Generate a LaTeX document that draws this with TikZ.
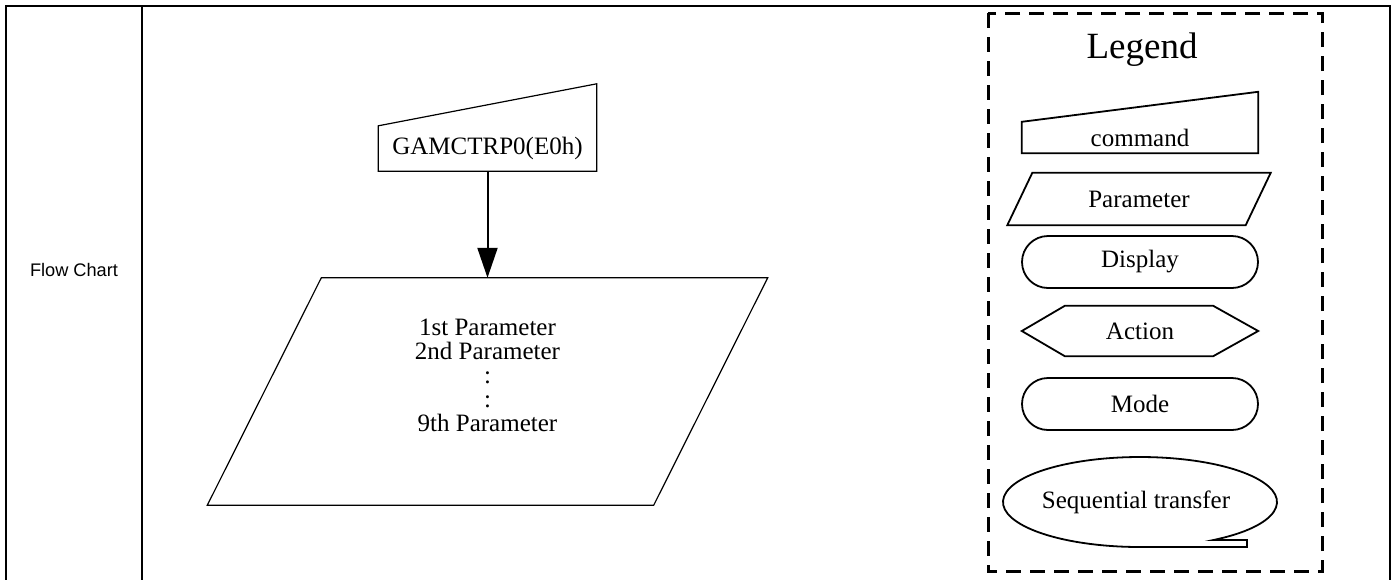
\documentclass[tikz,border=0pt]{standalone}
\usepackage{fontspec}
\setmainfont{Liberation Serif}
\newfontfamily\arialfont{Liberation Sans}
\usetikzlibrary{arrows.meta,positioning,calc}
\tikzset{
  >={Triangle[length=30pt,width=20pt]},
  grid/.style={line width=2.2pt},
  flowline/.style={line width=1.2pt},
  legline/.style={line width=1.8pt},
  txt/.style={font=\fontsize{25}{24}\selectfont, align=center, inner sep=0pt},
  term/.style={draw, legline, rounded corners=26pt, minimum width=236pt, minimum height=52pt, txt},
  legbox/.style={line width=3pt, dash pattern=on 15pt off 9pt},
}

\begin{document}
\begin{tikzpicture}[x=1pt,y=-1pt]
  \useasboundingbox (0,0) rectangle (1397,579);
  % table frame
  \draw[grid] (6,581) -- (6,6) -- (1390,6) -- (1390,581);
  \draw[grid] (142,6) -- (142,581);
  \node[font=\arialfont\fontsize{18.2}{22}\selectfont] (fc) at (74,270) {Flow Chart};

  % flow chart
  \node[txt, minimum width=218pt, minimum height=45pt] (cmd) at (487.5,148.5) {GAMCTRP0(E0h)};
  \draw[flowline] (cmd.north west) -- (cmd.south west) -- (cmd.south east)
    -- ($(cmd.north east)+(0,-42)$) -- cycle;
  \node[minimum width=446pt, minimum height=227pt, inner sep=0pt] (par) at (487.5,391.5) {};
  \draw[flowline] ($(par.north west)+(57,0)$) -- ($(par.north east)+(57,0)$)
    -- ($(par.south east)+(-57,0)$) -- ($(par.south west)+(-57,0)$) -- cycle;
  \node[txt] (ptxt) at (487.5,375) {1st Parameter\\2nd Parameter\\:\\:\\9th Parameter};
  \draw[->, line width=2pt] (cmd) -- (par);

  % legend
  \draw[legbox] (988,13) rectangle (1322,571);
  \node[font=\fontsize{37}{40}\selectfont, inner sep=0pt] (leg) at (1142,50) {Legend};

  \node[txt, minimum width=236pt, minimum height=31pt] (lcmd) at (1140,137.5) {command};
  \draw[legline] (lcmd.north west) -- (lcmd.south west) -- (lcmd.south east)
    -- ($(lcmd.north east)+(0,-30)$) -- cycle;

  \node[txt, minimum width=238pt, minimum height=52pt] (lpar) at (1139,199) {Parameter};
  \draw[legline] ($(lpar.north west)+(12.5,0)$) -- ($(lpar.north east)+(12.5,0)$)
    -- ($(lpar.south east)+(-12.5,0)$) -- ($(lpar.south west)+(-12.5,0)$) -- cycle;

  \node[term] (ldisp) at (1140,262) {Display};

  \node[txt, minimum width=236pt, minimum height=50pt] (lact) at (1140,331) {Action};
  \draw[legline] (lact.west) -- ($(lact.north west)+(43,0)$) -- ($(lact.north east)+(-45,0)$)
    -- (lact.east) -- ($(lact.south east)+(-45,0)$) -- ($(lact.south west)+(43,0)$) -- cycle;

  \node[term] (lmode) at (1140,404) {Mode};

  \node[txt] (lseq) at (1136,502) {Sequential transfer};
  \draw[legline] (1213.4,540) arc[start angle=57.6, end angle=-270, x radius=137, y radius=45]
    -- (1247,547) -- (1247,540) -- cycle;
\end{tikzpicture}
\end{document}
